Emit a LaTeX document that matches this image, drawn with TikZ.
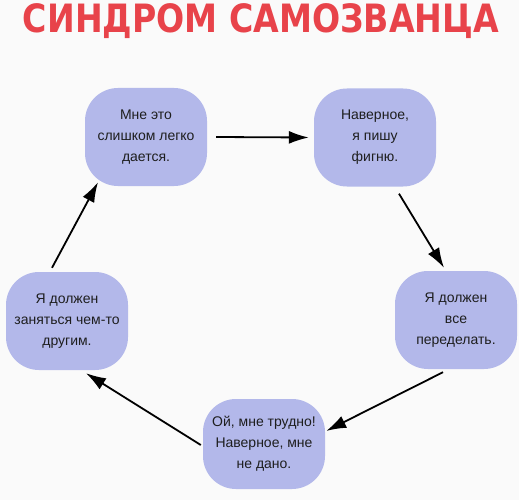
\documentclass[tikz,border=0pt]{standalone}
\usepackage{fontspec}
\setmainfont{Liberation Sans}
\newfontfamily\titlefont{DejaVu Sans}
\usetikzlibrary{arrows.meta}
\definecolor{boxfill}{HTML}{B3B8EA}
\definecolor{titlered}{HTML}{E8434A}
\definecolor{bgcol}{HTML}{FAFAFA}
\definecolor{txt}{HTML}{1E1E1E}
\tikzset{
  card/.style={draw=none, fill=boxfill, rounded corners=33pt, minimum width=122pt,
    minimum height=98pt, align=center, text=txt, inner sep=0pt,
    font=\fontsize{14}{21}\selectfont},
  flow/.style={-{Latex[length=20pt,width=13pt]}, line width=1.8pt, black}
}
\begin{document}
\begin{tikzpicture}[x=1pt,y=-1pt]
\fill[bgcol] (0,0) rectangle (519,500);
\useasboundingbox (0,0) rectangle (519,500);
\node[text=titlered, inner sep=0pt] (title) at (261,21)
  {\scalebox{0.85}[1]{\titlefont\bfseries\fontsize{39}{39}\selectfont СИНДРОМ САМОЗВАНЦА}};
\node[card] (b1) at (146,137) {Мне это\\слишком легко\\дается.};
\node[card] (b2) at (375,137.5) {Наверное,\\я пишу\\фигню.};
\node[card] (b3) at (456,320) {Я должен\\все\\переделать.};
\node[card, minimum height=90pt] (b4) at (264,444) {Ой, мне трудно!\\Наверное, мне\\не дано.};
\node[card] (b5) at (67,321) {Я должен\\заняться чем-то\\другим.};
\draw[flow] ([shift={(9,0)}]b1.east) -- ([shift={(-5,0)}]b2.west);
\draw[flow] ([shift={(24,7)}]b2.south) -- ([shift={(-12,-3)}]b3.north);
\draw[flow] ([shift={(-13,3)}]b3.south) -- ([shift={(1,-13)}]b4.east);
\draw[flow] ([shift={(-2,1)}]b4.west) -- ([shift={(19,3)}]b5.south);
\draw[flow] ([shift={(-15,-4)}]b5.north) -- ([shift={(-48,-4)}]b1.south);
\end{tikzpicture}
\end{document}
